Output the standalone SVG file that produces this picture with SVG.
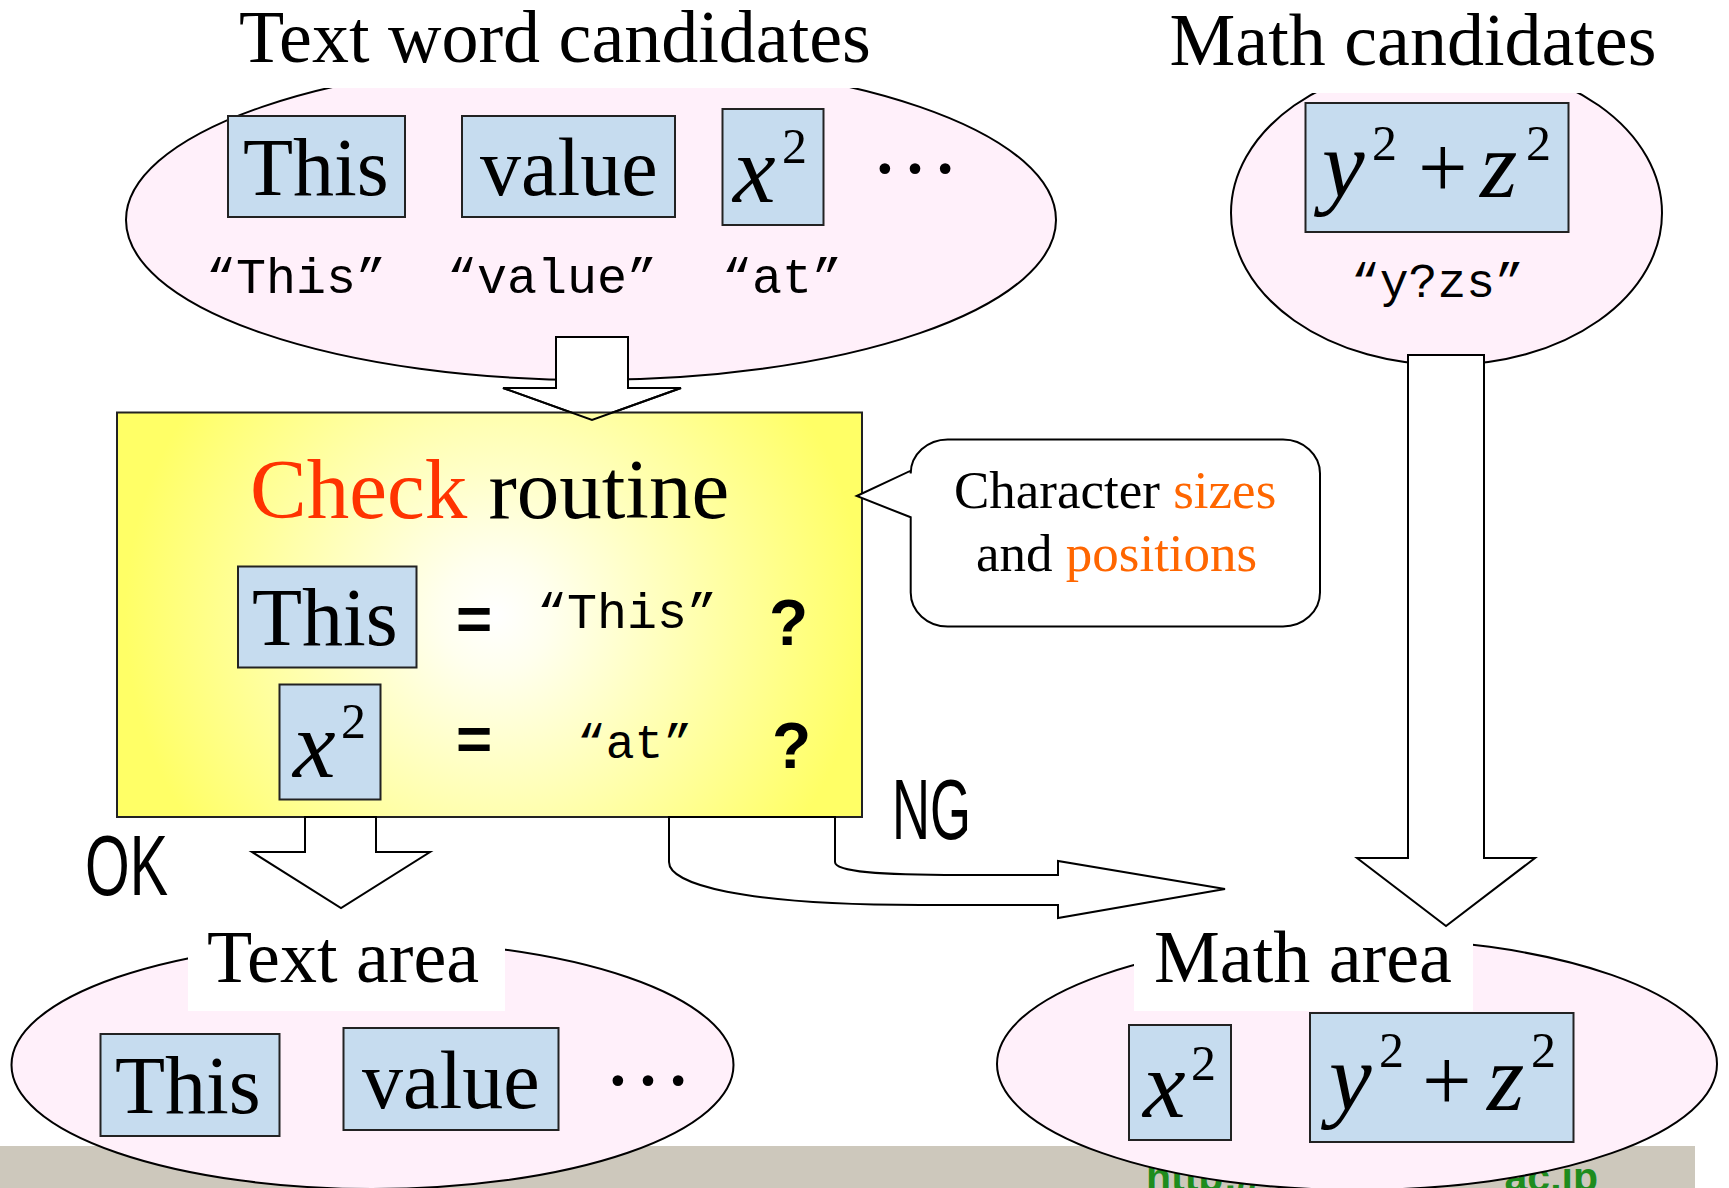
<svg xmlns="http://www.w3.org/2000/svg" width="1729" height="1188" viewBox="0 0 1729 1188">
<defs>
<style>
.ell{fill:#fff0fa;stroke:#000;stroke-width:2}
.box{fill:#c6dcef;stroke:#222;stroke-width:2}
.arr{fill:#fff;stroke:#000;stroke-width:2;stroke-linejoin:miter}
.wb{fill:#fff;stroke:none}
.ser{font-family:'Liberation Serif','Times New Roman',serif;fill:#000}
.t74{font-size:74px}
.w82{font-size:82px}
.it{font-style:italic}
.mono{font-family:'Liberation Mono','Courier New',monospace;font-size:50px;fill:#000}
.sans{font-family:'Liberation Sans',Arial,sans-serif;fill:#000}
.org{fill:#ff6600}
</style>
<radialGradient id="yg" gradientUnits="userSpaceOnUse" cx="495" cy="615" r="370">
<stop offset="0" stop-color="#ffffff"/>
<stop offset="0.15" stop-color="#ffffee"/>
<stop offset="1" stop-color="#ffff66"/>
</radialGradient>
</defs>
<rect width="1729" height="1188" fill="#fff"/>

<!-- footer -->
<g id="footer">
<rect x="0" y="1146" width="1695" height="42" fill="#cdc8bc"/>
<text class="sans" x="1146" y="1191" font-size="41" font-weight="bold" style="fill:#1e8c1e">http://</text>
<text class="sans" x="1598" y="1191" font-size="41" font-weight="bold" text-anchor="end" style="fill:#1e8c1e">ac.jp</text>
</g>

<!-- Text word candidates -->
<g id="text-candidates">
<ellipse class="ell" cx="591" cy="220" rx="465" ry="160"/>
<rect class="wb" x="180" y="0" width="820" height="88"/>
<text class="ser t74" x="555" y="62" text-anchor="middle">Text word candidates</text>
<rect class="box" x="228" y="116" width="177" height="101"/>
<text class="ser w82" x="243" y="195">This</text>
<rect class="box" x="462" y="116" width="213" height="101"/>
<text class="ser w82" x="480" y="195">value</text>
<rect class="box" x="722.5" y="109" width="101" height="116"/>
<text class="ser it" font-size="96" x="733" y="202">x</text>
<text class="ser" font-size="50" x="782" y="163">2</text>
<text class="ser" font-size="90" x="870" y="173">…</text>
<text class="mono" x="206" y="293">“This”</text>
<text class="mono" x="447" y="293">“value”</text>
<text class="mono" x="722" y="293">“at”</text>
</g>

<!-- Math candidates -->
<g id="math-candidates">
<ellipse class="ell" cx="1446.5" cy="213" rx="215.5" ry="152"/>
<rect class="wb" x="1150" y="0" width="579" height="93"/>
<text class="ser t74" x="1413" y="65" text-anchor="middle">Math candidates</text>
<rect class="box" x="1305.5" y="103" width="263" height="129"/>
<text class="ser it" font-size="96" x="1322" y="197">y</text>
<text class="ser" font-size="50" x="1372" y="160">2</text>
<text class="ser" font-size="88" x="1418" y="197">+</text>
<text class="ser it" font-size="96" x="1480" y="197">z</text>
<text class="ser" font-size="50" x="1526" y="160">2</text>
<text class="mono" x="1351" y="297" style="font-size:48px">“y?zs”</text>
</g>

<!-- arrow behind check box -->
<g id="connectors-back">
<polygon class="arr" points="556,337 628,337 628,388 681,388 592,420 503,388 556,388"/>
</g>

<!-- Check routine -->
<g id="check-routine">
<rect x="117" y="412.5" width="745" height="404.5" fill="url(#yg)" stroke="#222" stroke-width="2"/>
<text class="ser" font-size="85" x="250" y="518"><tspan fill="#ff3300">Check</tspan> routine</text>
<rect class="box" x="238" y="566.5" width="178.5" height="101"/>
<text class="ser w82" x="252" y="645">This</text>
<text class="sans" font-size="62" font-weight="bold" x="456" y="640">=</text>
<text class="mono" x="537" y="628">“This”</text>
<text class="sans" font-size="64" font-weight="bold" x="769" y="645">?</text>
<rect class="box" x="279.5" y="684.5" width="101" height="115"/>
<text class="ser it" font-size="96" x="293" y="777">x</text>
<text class="ser" font-size="50" x="341" y="738">2</text>
<text class="sans" font-size="62" font-weight="bold" x="456" y="760">=</text>
<text class="mono" x="577" y="758" style="font-size:48px">“at”</text>
<text class="sans" font-size="64" font-weight="bold" x="772" y="768">?</text>
</g>

<!-- callout -->
<g id="callout">
<path d="M948,439.5 H1283 A37,34 0 0 1 1320,473.5 V592.5 A37,34 0 0 1 1283,626.5 H948 A37,34 0 0 1 910.7,592.5 V517.3 L856.7,496 L910.7,470.7 V473.5 A37,34 0 0 1 948,439.5 Z" fill="#fff" stroke="#000" stroke-width="2"/>
<text class="ser" font-size="53" x="954" y="508">Character <tspan class="org">sizes</tspan></text>
<text class="ser" font-size="53" x="976" y="571">and <tspan class="org">positions</tspan></text>
</g>

<!-- Text area -->
<g id="text-area">
<ellipse class="ell" cx="372.5" cy="1065" rx="361" ry="124"/>
<rect class="wb" x="188" y="930" width="317" height="81"/>
<text class="ser t74" x="207" y="982">Text area</text>
<rect class="box" x="100.5" y="1034" width="179" height="102"/>
<text class="ser w82" x="115" y="1113">This</text>
<rect class="box" x="343.5" y="1028" width="215" height="102"/>
<text class="ser w82" x="362" y="1108">value</text>
<text class="ser" font-size="90" x="603" y="1085">…</text>
</g>

<!-- Math area -->
<g id="math-area">
<ellipse class="ell" cx="1357" cy="1064" rx="360" ry="126"/>
<rect class="wb" x="1134" y="930" width="339" height="81"/>
<text class="ser t74" x="1154" y="982">Math area</text>
<rect class="box" x="1129" y="1025" width="102" height="115"/>
<text class="ser it" font-size="96" x="1143" y="1117">x</text>
<text class="ser" font-size="50" x="1191" y="1080">2</text>
<rect class="box" x="1310" y="1013" width="263.5" height="129"/>
<text class="ser it" font-size="96" x="1329" y="1110">y</text>
<text class="ser" font-size="50" x="1379" y="1067">2</text>
<text class="ser" font-size="88" x="1422" y="1110">+</text>
<text class="ser it" font-size="96" x="1487" y="1110">z</text>
<text class="ser" font-size="50" x="1531" y="1067">2</text>
</g>

<!-- connectors -->
<g id="connectors">
<polyline points="503,388 592,420 681,388" fill="none" stroke="#000" stroke-width="2"/>
<polygon class="arr" points="1408,355 1484,355 1484,858 1535,858 1446,926 1357,858 1408,858"/>
<polygon class="arr" points="305,817 376,817 376,852 430,852 341,908 252,852 305,852"/>
<path class="arr" d="M669,817 V862 C669,884 740,905 920,905 H1058 V918 L1225,889 L1058,861 V875 H960 C880,875 835,872 835,862 V817 Z"/>
<text class="sans" font-size="86" x="85" y="895" textLength="83" lengthAdjust="spacingAndGlyphs">OK</text>
<text class="sans" font-size="86" x="892" y="839" textLength="79" lengthAdjust="spacingAndGlyphs">NG</text>
</g>
</svg>
